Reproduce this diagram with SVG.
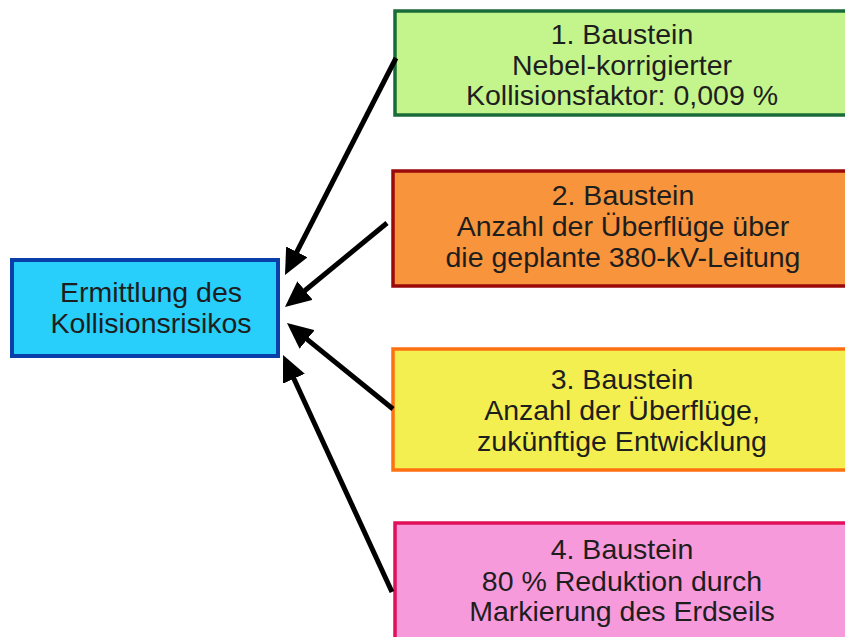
<svg xmlns="http://www.w3.org/2000/svg" width="845" height="637" viewBox="0 0 845 637">
<defs>
<style>
text{font-family:"Liberation Sans",Arial,sans-serif;font-size:28.5px;fill:#1e1e1e;text-anchor:middle}
.c{stroke:#000;stroke-width:5;fill:none}
</style>
<marker id="ah" markerUnits="userSpaceOnUse" viewBox="0 0 26 24" refX="6" refY="12" markerWidth="26" markerHeight="24" orient="auto">
<path d="M0,0 L26,12 L0,24 Z" fill="#000"/>
</marker>
</defs>
<rect width="845" height="637" fill="#fff"/>
<g id="n0">
<rect x="12" y="260" width="266" height="96" fill="#27cffa" stroke="#0a3ea8" stroke-width="4"/>
<text x="151" y="302">Ermittlung des</text>
<text x="151" y="333">Kollisionsrisikos</text>
</g>
<g id="n1">
<rect x="395" y="11" width="470" height="104" fill="#c4f58c" stroke="#1a6b3a" stroke-width="3.5"/>
<text x="622" y="44">1. Baustein</text>
<text x="622" y="75">Nebel-korrigierter</text>
<text x="622" y="105">Kollisionsfaktor: 0,009 %</text>
</g>
<g id="n2">
<rect x="393" y="171" width="472" height="115" fill="#f7943c" stroke="#9b0a0a" stroke-width="3.5"/>
<text x="623" y="205">2. Baustein</text>
<text x="623" y="236">Anzahl der Überflüge über</text>
<text x="623" y="267">die geplante 380-kV-Leitung</text>
</g>
<g id="n3">
<rect x="393" y="349" width="472" height="121" fill="#f4ef50" stroke="#ff7010" stroke-width="3.5"/>
<text x="622" y="389">3. Baustein</text>
<text x="622" y="420">Anzahl der Überflüge,</text>
<text x="622" y="451">zukünftige Entwicklung</text>
</g>
<g id="n4">
<rect x="395" y="523" width="470" height="130" fill="#f79adb" stroke="#e0105a" stroke-width="3.5"/>
<text x="622" y="559">4. Baustein</text>
<text x="622" y="591">80 % Reduktion durch</text>
<text x="622" y="621">Markierung des Erdseils</text>
</g>
<g id="connectors">
<line class="c" x1="396" y1="58" x2="294.1" y2="257.2" marker-end="url(#ah)"/>
<line class="c" x1="387" y1="223" x2="300.4" y2="294.3" marker-end="url(#ah)"/>
<line class="c" x1="393" y1="409" x2="302.5" y2="335.6" marker-end="url(#ah)"/>
<line class="c" x1="392" y1="592" x2="291.4" y2="373.2" marker-end="url(#ah)"/>
</g>
</svg>
